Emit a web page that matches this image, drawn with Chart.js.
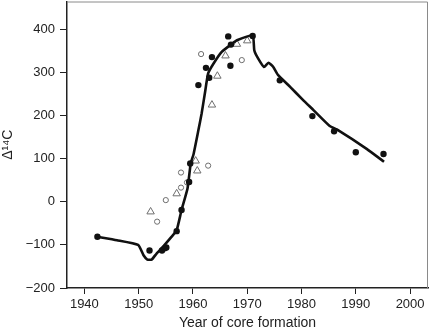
<!DOCTYPE html>
<html>
<head>
<meta charset="utf-8">
<script src="https://cdn.jsdelivr.net/npm/chart.js@4"></script>
<style>
  html, body { margin: 0; padding: 0; background: #fff; }
  #wrap { width: 430px; height: 332px; }
</style>
</head>
<body>
<div id="wrap"><canvas id="c14Chart" width="430" height="332"></canvas></div>
<script>
const filledYears  = [1942.4, 1952.0, 1954.3, 1954.8, 1955.1, 1957.0, 1957.9, 1959.3, 1959.5, 1961.0, 1962.4, 1963.0, 1963.5, 1966.5, 1967.0, 1966.9, 1971.0, 1976.0, 1982.0, 1986.0, 1990.0, 1995.1];
const filledValues = [-81, -113, -113, -108, -106, -68, -19, 46, 89, 271, 311, 288, 336, 384, 365, 316, 385, 282, 199, 164, 115, 111];

const openYears  = [1953.4, 1955.0, 1957.8, 1957.8, 1958.9, 1962.8, 1961.5, 1969.0];
const openValues = [-46, 4, 33, 68, 45, 84, 343, 329];

const triYears  = [1952.2, 1957.0, 1960.5, 1960.8, 1963.5, 1964.5, 1966.0, 1968.1, 1970.0];
const triValues = [-23, 19, 95, 72, 225, 292, 339, 366, 374];

const curveYears  = [1942.4, 1946.0, 1949.9, 1950.9, 1951.6, 1952.4, 1953.3, 1954.5, 1956.0, 1957.0, 1957.9, 1959.0, 1959.6, 1960.1, 1961.0, 1961.6, 1962.2, 1962.8, 1963.8, 1965.3, 1967.1, 1968.1, 1971.0, 1971.3, 1972.0, 1973.1, 1973.9, 1974.8, 1975.7, 1977.9, 1980.3, 1982.2, 1985.2, 1986.5, 1992.0, 1995.2];
const curveValues = [-81, -89, -100, -124, -134, -134, -120, -104, -82, -66, -19, 31, 90, 110, 166, 205, 252, 298, 321, 348, 366, 375, 386, 352, 333, 313, 323, 313, 294, 267, 236, 213, 176, 168, 123, 93];

const xTicks = [1940, 1950, 1960, 1970, 1980, 1990, 2000];
const yTicks = [-200, -100, 0, 100, 200, 300, 400];

const pts = (xs, ys) => xs.map((x, i) => ({ x, y: ys[i] }));
const FONT = 'Liberation Sans, Arial, Helvetica, sans-serif';

// light frame on top/right like the R box
const frame = {
  id: 'frame',
  beforeDatasetsDraw(chart) {
    const { ctx, chartArea: a } = chart;
    ctx.save();
    ctx.strokeStyle = '#8a8a8a';
    ctx.lineWidth = 1;
    ctx.beginPath();
    ctx.moveTo(a.left, a.top + 0.5);
    ctx.lineTo(a.right - 0.5, a.top + 0.5);
    ctx.lineTo(a.right - 0.5, a.bottom);
    ctx.stroke();
    ctx.restore();
  }
};

new Chart(document.getElementById('c14Chart'), {
  type: 'scatter',
  data: {
    datasets: [
      { label: 'curve', data: pts(curveYears, curveValues), showLine: true, borderColor: '#111', borderWidth: 2.6, tension: 0.15, pointRadius: 0, order: 2 },
      { label: 'filled', data: pts(filledYears, filledValues), pointRadius: 3.2, pointBackgroundColor: '#111', pointBorderColor: '#111', pointBorderWidth: 0, order: 1 },
      { label: 'open', data: pts(openYears, openValues), pointRadius: 2.6, pointBackgroundColor: 'rgba(255,255,255,0)', pointBorderColor: '#6e6e6e', pointBorderWidth: 1, order: 3 },
      { label: 'tri', data: pts(triYears, triValues), pointStyle: 'triangle', pointRadius: 4.3, pointBackgroundColor: 'rgba(255,255,255,0)', pointBorderColor: '#6e6e6e', pointBorderWidth: 1, order: 3 },
    ],
  },
  options: {
    responsive: false,
    animation: false,
    layout: { autoPadding: false, padding: { left: 0, right: 2, top: 1.5, bottom: 0 } },
    plugins: { legend: { display: false }, tooltip: { enabled: false } },
    scales: {
      x: {
        type: 'linear', min: 1936.8, max: 2003.3,
        afterBuildTicks: ax => { ax.ticks = xTicks.map(v => ({ value: v })); },
        afterFit: ax => { ax.height = 44; ax.paddingLeft = 0; ax.paddingRight = 0; },
        grid: { drawOnChartArea: false, drawTicks: true, tickLength: 6, color: '#222' },
        border: { display: true, color: '#222', width: 1.5 },
        ticks: { color: '#222', font: { family: FONT, size: 13 }, padding: 3, maxRotation: 0, callback: v => String(v) },
        title: { display: true, text: 'Year of core formation', color: '#222', font: { family: FONT, size: 14 }, padding: { top: 0, bottom: 0 } },
      },
      y: {
        min: -200, max: 465,
        afterBuildTicks: ax => { ax.ticks = yTicks.map(v => ({ value: v })); },
        afterFit: ax => { ax.width = 67; ax.paddingTop = 0; ax.paddingBottom = 0; },
        grid: { drawOnChartArea: false, drawTicks: true, tickLength: 7, color: '#222' },
        border: { display: true, color: '#222', width: 1.5 },
        ticks: { color: '#222', font: { family: FONT, size: 13 }, padding: 5, callback: v => String(v).replace('-', '\u2212') },
        title: { display: true, text: 'Δ¹⁴C', color: '#222', font: { family: FONT, size: 14 }, padding: { top: 0, bottom: 4 } },
      },
    },
  },
  plugins: [frame],
});
</script>
</body>
</html>
